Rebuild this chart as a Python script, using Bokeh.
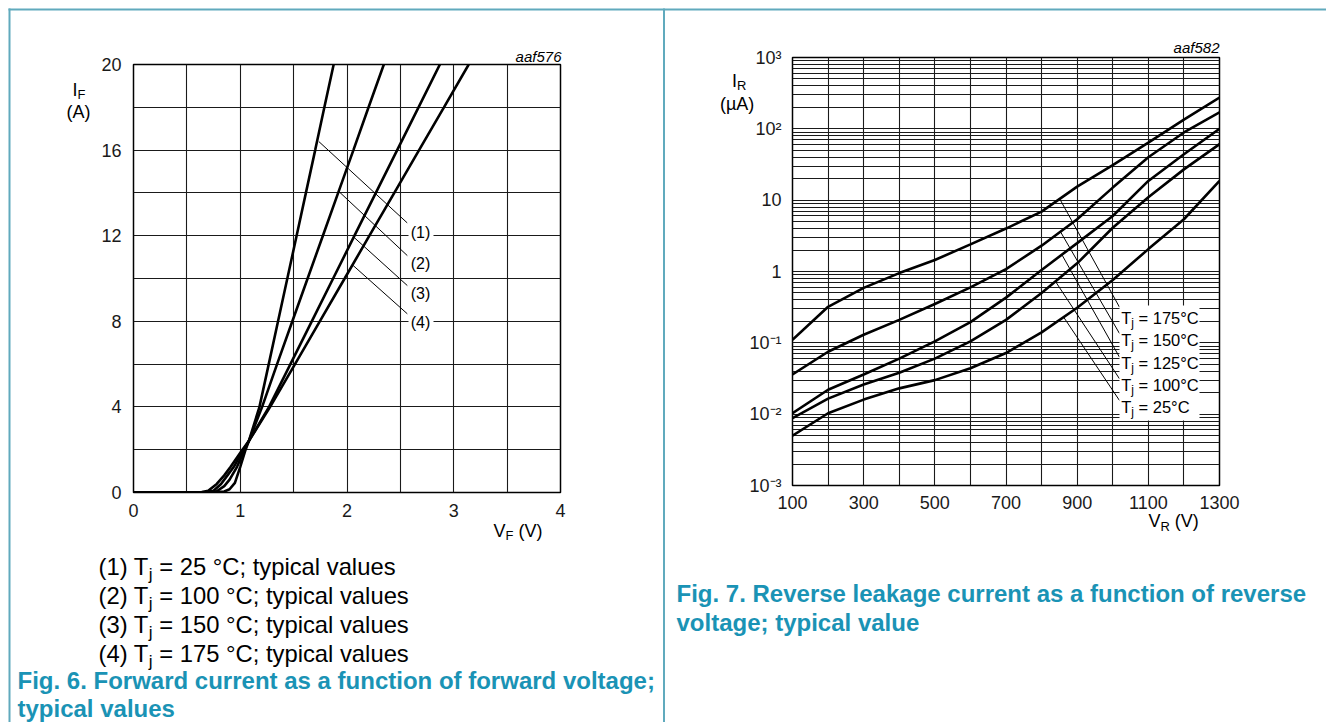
import math
from bokeh.plotting import figure
from bokeh.models import Range1d, FixedTicker, Label, BoxAnnotation
from bokeh.layouts import row, column
from bokeh.embed import file_html
from bokeh.resources import INLINE

# ---------------- Fig. 6 data: forward current I_F (A) vs forward voltage V_F (V)
f6_c1_vf = [0, 0.5, 0.75, 0.85, 0.9, 0.95, 1.0, 1.05, 1.08, 1.18, 1.267, 1.354, 1.441, 1.528, 1.615, 1.702, 1.788, 1.875]
f6_c1_if = [0, 0.01, 0.02, 0.05, 0.15, 0.45, 1.2, 2.0, 2.4, 4, 6, 8, 10, 12, 14, 16, 18, 20]
f6_c2_vf = [0, 0.5, 0.7, 0.78, 0.85, 0.9, 0.97, 1.04, 1.08, 1.205, 1.345, 1.488, 1.631, 1.774, 1.917, 2.06, 2.202, 2.345]
f6_c2_if = [0, 0.01, 0.02, 0.06, 0.3, 0.6, 1.2, 2.0, 2.4, 4, 6, 8, 10, 12, 14, 16, 18, 20]
f6_c3_vf = [0, 0.5, 0.68, 0.75, 0.82, 0.88, 0.94, 1.03, 1.08, 1.27, 1.47, 1.67, 1.87, 2.07, 2.27, 2.47, 2.67, 2.87]
f6_c3_if = [0, 0.01, 0.02, 0.08, 0.4, 0.8, 1.2, 2.0, 2.4, 4, 6, 8, 10, 12, 14, 16, 18, 20]
f6_c4_vf = [0, 0.5, 0.64, 0.7, 0.78, 0.85, 0.91, 1.02, 1.08, 1.28, 1.513, 1.745, 1.978, 2.21, 2.443, 2.675, 2.908, 3.14]
f6_c4_if = [0, 0.01, 0.02, 0.08, 0.4, 0.8, 1.2, 2.0, 2.4, 4, 6, 8, 10, 12, 14, 16, 18, 20]
f6_curve_tags = ["(1)", "(2)", "(3)", "(4)"]
f6_temps = ["25", "100", "150", "175"]
f6_xticks = [0, 1, 2, 3, 4]
f6_yticks = [0, 4, 8, 12, 16, 20]
f6_code = "aaf576"
f6_caption = ["Fig. 6. Forward current as a function of forward voltage;", "typical values"]

# ---------------- Fig. 7 data: reverse current I_R (uA) vs reverse voltage V_R (V)
f7_vr = [100, 200, 300, 400, 500, 600, 700, 800, 900, 1000, 1100, 1200, 1300]
f7_ir_175 = [0.11, 0.32, 0.59, 0.95, 1.45, 2.4, 4.0, 6.9, 15.5, 31, 64, 135, 275]
f7_ir_150 = [0.036, 0.075, 0.13, 0.21, 0.35, 0.6, 1.08, 2.3, 5.4, 15, 40, 89, 170]
f7_ir_125 = [0.0103, 0.022, 0.036, 0.06, 0.105, 0.195, 0.43, 1.05, 2.5, 6.0, 18.6, 44, 100]
f7_ir_100 = [0.0088, 0.0165, 0.026, 0.038, 0.06, 0.105, 0.21, 0.5, 1.3, 4.1, 11, 27, 61]
f7_ir_25 = [0.005, 0.0103, 0.016, 0.023, 0.03, 0.044, 0.072, 0.14, 0.31, 0.76, 2.06, 5.4, 18.6]
f7_temps = ["175°C", "150°C", "125°C", "100°C", "25°C"]
f7_xticks = [100, 300, 500, 700, 900, 1100, 1300]
f7_yticks = [1e-3, 1e-2, 1e-1, 1.0, 10.0, 100.0, 1000.0]
f7_ytick_labels = ["10⁻³", "10⁻²", "10⁻¹", "1", "10", "10²", "10³"]
f7_code = "aaf582"
f7_caption = ["Fig. 7. Reverse leakage current as a function of reverse", "voltage; typical value"]

FONT = "Liberation Sans"
BORDER = "#60aabd"
CAPTION = "#1a93b5"
H = 722
SHIFT7 = 7  # right chart is drawn 7px higher than the left one

# Arial-metric advance widths (per 1000 em) used to place subscripts
W = {' ': 278, '(': 333, ')': 333, 'T': 611, 'I': 278, 'V': 667, 'j': 222,
     'F': 611, 'R': 722, '=': 584}
for d in "0123456789":
    W[d] = 556


def tw(s, size):
    return sum(W.get(c, 556) for c in s) * size / 1000.0


def ident(v):
    return v


def txt(p, X, Y, text, size, color="black", style="normal", align="left",
        cx=ident, cy=ident):
    """Place text whose baseline is at page px (X, Y)."""
    lab = Label(x=cx(X), y=cy(Y - 0.35 * size), text=text, text_font=FONT,
                text_font_size=f"{size}px", text_color=color, text_font_style=style,
                text_align=align, text_baseline="middle")
    p.add_layout(lab)
    return lab


def sub_text(p, X, Y, main, sub, rest, size, cx=ident, cy=ident):
    txt(p, X, Y, main, size, cx=cx, cy=cy)
    x2 = X + tw(main, size)
    ss = size * 0.72
    txt(p, x2, Y + size * 0.2, sub, ss, cx=cx, cy=cy)
    if rest:
        x3 = x2 + tw(sub, ss)
        stripped = rest.lstrip(" ")
        x3 += tw(rest[:len(rest) - len(stripped)], size)
        txt(p, x3, Y, stripped, size, cx=cx, cy=cy)


def style_axes(p, size, xstand, ystand):
    for ax in list(p.xaxis) + list(p.yaxis):
        ax.axis_line_color = None
        ax.major_tick_line_color = None
        ax.minor_tick_line_color = None
        ax.major_tick_out = 0
        ax.major_tick_in = 0
        ax.minor_tick_out = 0
        ax.minor_tick_in = 0
        ax.major_label_text_font = FONT
        ax.major_label_text_font_size = f"{size}px"
        ax.major_label_text_color = "#1a1a1a"
    p.xaxis.major_label_standoff = xstand
    p.yaxis.major_label_standoff = ystand


# ======================= page layer (texts and cell borders) =======================
page = figure(width=1326, height=H, x_range=Range1d(0, 1326), y_range=Range1d(H, 0),
              output_backend="svg", toolbar_location=None,
              x_axis_location=None, y_axis_location=None, min_border=0)
page.outline_line_color = None
page.background_fill_color = "white"
page.border_fill_color = "white"
page.xgrid.visible = False
page.ygrid.visible = False

page.quad(left=[8, 8, 662.5], right=[1326, 10, 664.5], top=[8, 8, 8], bottom=[10, H, H],
          fill_color=BORDER, line_color=None)

# Fig. 6 texts
sub_text(page, 72, 95.3, "I", "F", "", 18)
txt(page, 66, 117.3, "(A)", 18)
sub_text(page, 493, 536.3, "V", "F", " (V)", 18)
txt(page, 561, 61.3, f6_code, 15, style="italic", align="right")
for k, (tag, t) in enumerate(zip(f6_curve_tags, f6_temps)):
    sub_text(page, 98, 574.3 + 29 * k, f"{tag} T", "j", f" = {t} °C; typical values", 23.8)
txt(page, 17, 688.4, f6_caption[0], 24, color=CAPTION, style="bold")
txt(page, 17, 716.7, f6_caption[1], 24, color=CAPTION, style="bold")

# Fig. 7 texts
sub_text(page, 731.5, 86.3, "I", "R", "", 18)
txt(page, 719.5, 109.3, "(µA)", 18)
sub_text(page, 1148, 527, "V", "R", " (V)", 18)
txt(page, 1219, 52, f7_code, 15, style="italic", align="right")
txt(page, 676, 601.7, f7_caption[0], 24, color=CAPTION, style="bold")
txt(page, 676, 630, f7_caption[1], 24, color=CAPTION, style="bold")

# ======================= Fig. 6 chart (left) =======================
p6 = figure(width=663, height=H, x_range=Range1d(0, 4), y_range=Range1d(0, 20),
            output_backend="svg", toolbar_location=None,
            min_border_left=133, min_border_right=103, min_border_top=64, min_border_bottom=H - 492)
p6.outline_line_color = "black"
p6.outline_line_width = 1.5
p6.background_fill_color = "white"
p6.border_fill_color = None
style_axes(p6, 18, 11, 12)
p6.xaxis.ticker = FixedTicker(ticks=f6_xticks)
p6.yaxis.ticker = FixedTicker(ticks=f6_yticks)
p6.xgrid.ticker = FixedTicker(ticks=[0.5, 1, 1.5, 2, 2.5, 3, 3.5])
p6.ygrid.ticker = FixedTicker(ticks=[2, 4, 6, 8, 10, 12, 14, 16, 18])
p6.grid.grid_line_color = "#1a1a1a"
p6.grid.grid_line_width = 1.1

def fx(X):
    return (X - 133) / 106.75

def fy(Y):
    return (492 - Y) / 21.4

for vf, i_f in [(f6_c1_vf, f6_c1_if), (f6_c2_vf, f6_c2_if), (f6_c3_vf, f6_c3_if), (f6_c4_vf, f6_c4_if)]:
    p6.line(vf, i_f, line_color="black", line_width=2.6)

l6_x0 = [1.736, 1.923, 2.064, 2.057]
l6_y0 = [16.40, 14.07, 11.93, 10.61]
l6_x1 = [2.564, 2.565, 2.565, 2.565]
l6_y1 = [12.60, 11.07, 9.67, 8.35]
p6.segment(l6_x0, l6_y0, l6_x1, l6_y1, line_color="black", line_width=1)
for tag, Y in zip(f6_curve_tags, [232, 263, 293, 322]):
    p6.add_layout(BoxAnnotation(left=fx(408), right=fx(433), top=fy(Y - 9), bottom=fy(Y + 9),
                                fill_color="white", fill_alpha=1, line_color=None))
    p6.add_layout(Label(x=fx(420), y=fy(Y), text=tag, text_font=FONT, text_font_size="16px",
                        text_align="center", text_baseline="middle", text_color="black"))

# ======================= Fig. 7 chart (right) =======================
p7 = figure(width=663, height=H, x_range=Range1d(100, 1300), y_range=Range1d(1e-3, 1e3),
            y_axis_type="log", output_backend="svg", toolbar_location=None,
            min_border_left=129, min_border_right=107, min_border_top=64, min_border_bottom=H - 492)
p7.styles = {"transform": f"translateY(-{SHIFT7}px)"}
p7.outline_line_color = "black"
p7.outline_line_width = 1.5
p7.background_fill_color = "white"
p7.border_fill_color = None
style_axes(p7, 18, 10, 11)
p7.xaxis.ticker = FixedTicker(ticks=f7_xticks)
p7.yaxis.ticker = FixedTicker(ticks=f7_yticks)
p7.yaxis.major_label_overrides = dict(zip(f7_yticks, f7_ytick_labels))
p7.xgrid.ticker = FixedTicker(ticks=list(range(200, 1300, 100)))
minor = [k * 10.0 ** d for d in range(-3, 3) for k in range(2, 10)]
p7.ygrid.ticker = FixedTicker(ticks=[1e-2, 1e-1, 1.0, 10.0, 100.0], minor_ticks=minor)
p7.grid.grid_line_color = "#1a1a1a"
p7.grid.grid_line_width = 1.1
p7.ygrid.minor_grid_line_color = "#1a1a1a"
p7.ygrid.minor_grid_line_width = 1.0

# page px -> data (frame spans page X 792..1219, Y 57..485)
def gx(X):
    return 100 + (X - 792) * 1200.0 / 427

def gy(Y):
    return 10 ** (3 - (Y - 57) * 6.0 / 428)

curves7 = [f7_ir_175, f7_ir_150, f7_ir_125, f7_ir_100, f7_ir_25]
for ir in curves7:
    p7.line(f7_vr, ir, line_color="black", line_width=2.6)


def loginterp(x, xs, ys):
    for i in range(len(xs) - 1):
        if xs[i] <= x <= xs[i + 1]:
            t = (x - xs[i]) / (xs[i + 1] - xs[i])
            return 10 ** (math.log10(ys[i]) + t * (math.log10(ys[i + 1]) - math.log10(ys[i])))
    return ys[-1]

l7_v0 = [851, 853, 857, 839, 862]
l7_end = [(1119, 306.7), (1119, 333), (1119, 356.7), (1119, 378.3), (1119, 400)]
p7.segment(l7_v0, [loginterp(v, f7_vr, c) for v, c in zip(l7_v0, curves7)],
           [gx(e[0]) for e in l7_end], [gy(e[1]) for e in l7_end],
           line_color="black", line_width=1)

p7.add_layout(BoxAnnotation(left=gx(1119), right=gx(1199), top=gy(305), bottom=gy(420),
                            fill_color="white", fill_alpha=1, line_color=None))
for t, Y in zip(f7_temps, [323.3, 345, 368, 390.7, 412.7]):
    sub_text(p7, 1120.7, Y, "T", "j", f" = {t}", 16.5, cx=gx, cy=gy)

charts = row(p6, p7, spacing=0, margin=(-H, 0, 0, 0))
layout = column(page, charts, spacing=0)
open("out.html", "w").write(file_html(layout, INLINE))
